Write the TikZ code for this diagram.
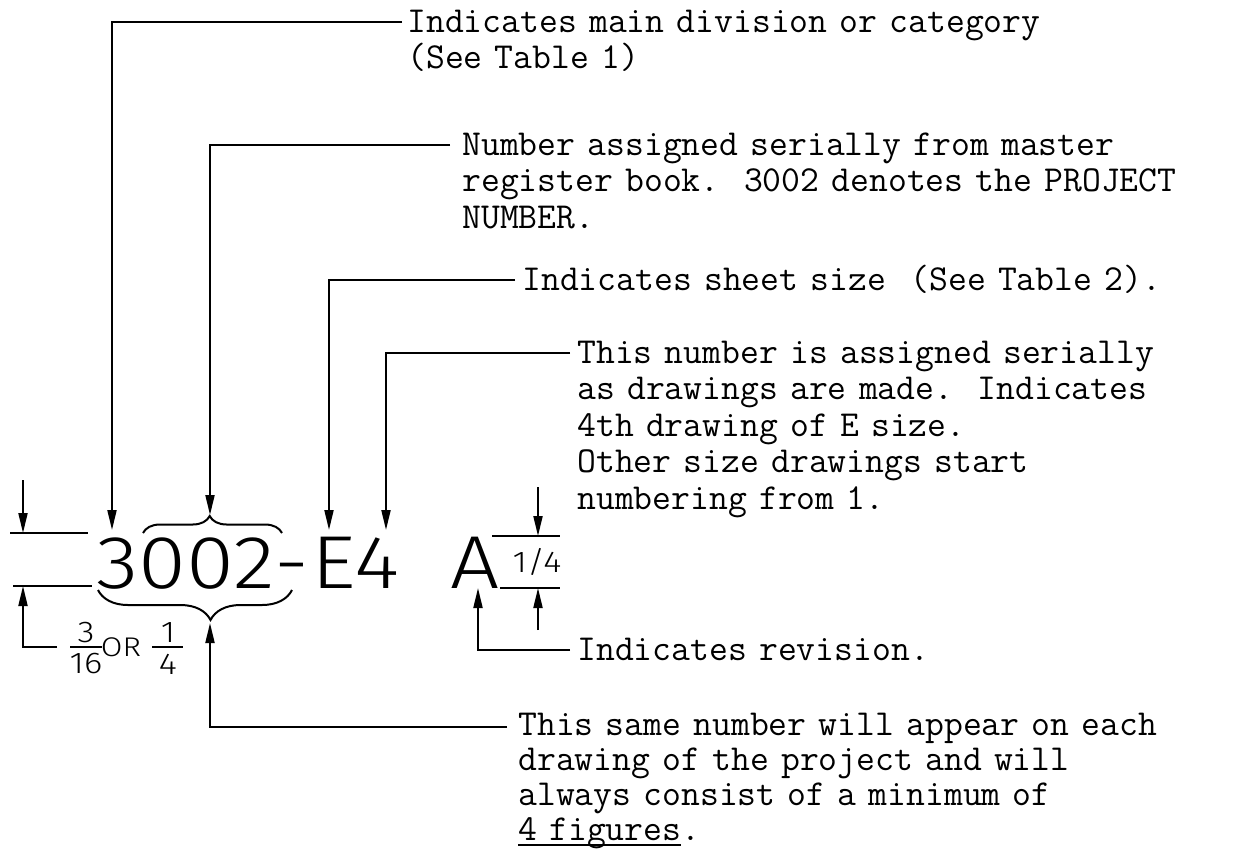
\documentclass[tikz,border=0pt]{standalone}
\usepackage{fontspec}
\usetikzlibrary{arrows.meta,decorations.pathreplacing}
\newfontfamily\letterfont{Fira Sans Light}[FakeStretch=1.16]
\newcommand\figline[1]{\leavevmode\setbox0\hbox{#1}\rlap{\rule[-3pt]{\wd0}{0.8pt}}\box0}
\frenchspacing
\begin{document}
\begin{tikzpicture}[x=0.5pt,y=-0.5pt]
\tikzset{
  note/.style={font=\ttfamily\fontsize{18.3pt}{18.3pt}\selectfont, inner sep=0pt, anchor=base west, text width=430pt, align=left},
  big/.style={font=\letterfont\fontsize{37.5pt}{37.5pt}\selectfont, inner sep=0pt, anchor=base west},
  small/.style={font=\letterfont\fontsize{15pt}{15pt}\selectfont, inner sep=0pt},
  lead/.style={line width=1pt, -{Triangle[length=10pt,width=4.5pt]}},
  rule/.style={line width=1pt},
  curly/.style 2 args={line width=1pt, decorate, decoration={brace, amplitude=#1, aspect=#2}},
}
\useasboundingbox (0,0) rectangle (1253,848);

% the drawing number
\node[big] (proj) at (96,588) {3002};
\node[big] (hyph) at (274,588) {-};
\node[big] (size) at (311,588) {E};
\node[big] (seq) at (354,588) {4};
\node[big] (rev) at (450,588) {A};

% arrow tips on the lettering
\coordinate (tipcat) at (112,530);
\coordinate (tipreg) at (210,515);
\coordinate (tipsize) at (329,530);
\coordinate (tipseq) at (386,530);
\coordinate (tiprev) at (478,588);
\coordinate (tipsame) at (210,623);

% notes
\node[note] (catnote) at (407,32) {Indicates main division or category\\(See Table 1)};
\node[note] (regnote) at (462,155) {Number assigned serially from master\\register book.\ \ 3002 denotes the PROJECT\\NUMBER.};
\node[note] (sizenote) at (522,290) {Indicates sheet size\ \ (See Table 2).};
\node[note] (drawnote) at (577,363) {This number is assigned serially\\as drawings are made.\ \ Indicates\\4th drawing of E size.\\Other size drawings start\\numbering from 1.};
\node[note] (revnote) at (577,660) {Indicates revision.};
\node[note, font=\ttfamily\fontsize{18.3pt}{17.5pt}\selectfont] (samenote) at (518,735) {This same number will appear on each\\drawing of the project and will\\always consist of a minimum of\\\figline{4 figures}.};

% leaders
\draw[lead] ([shift={(-5,-10)}]catnote.base west) -| (tipcat);
\draw[lead] ([shift={(-12,-10)}]regnote.base west) -| (tipreg);
\draw[lead] ([shift={(-7,-10)}]sizenote.base west) -| (tipsize);
\draw[lead] ([shift={(-7,-10)}]drawnote.base west) -| (tipseq);
\draw[lead] ([shift={(-7,-10)}]revnote.base west) -| (tiprev);
\draw[lead] ([shift={(-11,-8)}]samenote.base west) -| (tipsame);

% braces
\draw[curly={8.5pt}{0.48}] (143,533) -- (282,533);
\draw[curly={15pt}{0.42}] (292,590) -- (98,590);

% letter height 3/16 or 1/4
\coordinate (captop) at (10,533);
\coordinate (capend) at (88,533);
\coordinate (basetop) at (13,586);
\coordinate (baseend) at (92,586);
\coordinate (dimin) at (23,480);
\coordinate (dimout) at (57,647);
\draw[rule] (captop) -- (capend);
\draw[rule] (basetop) -- (baseend);
\draw[lead] (dimin) -- (dimin |- captop);
\draw[lead] (dimout) -| (dimin |- basetop);
\node[small] (num3) at (86,633) {3};
\node[small] (den16) at (86,664) {16};
\draw[rule] (70,647) -- (102,647);
\node[small, font=\letterfont\fontsize{13.5pt}{13.5pt}\selectfont] (orw) at (121,647) {OR};
\node[small] (num1) at (168,633) {1};
\node[small] (den4) at (168,664) {4};
\draw[rule] (152,647) -- (183,647);

% revision height 1/4
\coordinate (revtop) at (492,536);
\coordinate (revbot) at (500,588);
\coordinate (revin) at (538,487);
\coordinate (revout) at (538,630);
\draw[rule] (revtop) -- (560,536);
\draw[rule] (revbot) -- (560,588);
\draw[lead] (revin) -- (revin |- revtop);
\draw[lead] (revout) -- (revout |- revbot);
\node[small] (revsize) at (537,562) {1/4};
\end{tikzpicture}
\end{document}
